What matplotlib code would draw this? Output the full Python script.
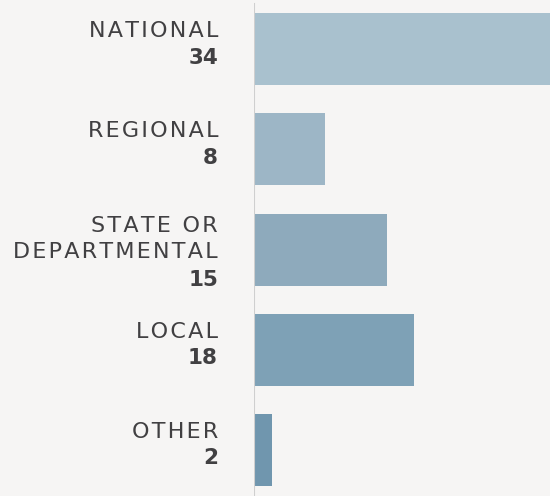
import matplotlib.pyplot as plt

# data
categories = ["NATIONAL", "REGIONAL", "STATE OR\nDEPARTMENTAL", "LOCAL", "OTHER"]
counts = [34, 8, 15, 18, 2]
colors = ["#a9c1ce", "#9db6c6", "#8eaabc", "#7ea1b6", "#7096ae"]

bg = "#f6f5f4"
txt = "#414042"

fig = plt.figure(figsize=(5.5, 4.96), dpi=100, facecolor=bg)
ax = fig.add_axes([254 / 550, 0, 296 / 550, 1])
ax.set_facecolor(bg)

ypos = list(range(len(categories)))
ax.barh(ypos, counts, height=0.72, color=colors, zorder=2)

ax.set_xlim(0, 296 / 8.88)
ax.set_ylim(4.465, -0.495)
ax.axis("off")

# thin grey baseline on the left
ax.axvline(0, ymin=0, ymax=1 - 4 / 496, color="#cfcfcf", lw=1.5, zorder=3)


def spaced(s):
    # hair spaces to fake the wide tracking of the original font
    return "\u200a".join(s)


# labels: category name (regular) + count (bold), right aligned left of the axis
for i, (name, n) in enumerate(zip(categories, counts)):
    lines = name.split("\n")
    nlines = len(lines) + 1
    first = 24 - (nlines - 2) * 6
    top = i - 0.36
    for k, line in enumerate(lines + [str(n)]):
        bold = k == len(lines)
        ax.annotate(line if bold else spaced(line), xy=(0, top),
                    xytext=(-36, -(first + 27 * k)),
                    textcoords="offset pixels", ha="right", va="baseline",
                    fontsize=15.5 if bold else 16, color=txt,
                    family="DejaVu Sans",
                    fontweight="bold" if bold else "normal",
                    annotation_clip=False)

fig.savefig("out.png", dpi=100, facecolor=bg)
